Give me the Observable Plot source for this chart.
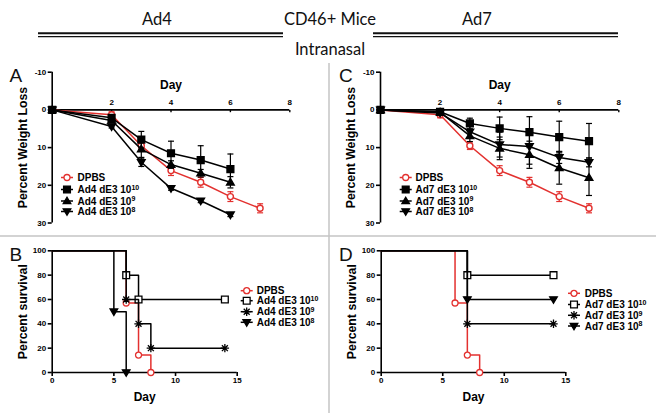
<!DOCTYPE html>
<html><head><meta charset="utf-8">
<script src="https://cdn.jsdelivr.net/npm/d3@7"></script>
<script src="https://cdn.jsdelivr.net/npm/@observablehq/plot@0.6"></script>
<style>
body{margin:0;background:#fff;}
#wrap{position:relative;width:656px;height:413px;overflow:hidden;background:#fff;}
.panel{position:absolute;}
.panel svg{display:block;max-width:none;}
#overlay{position:absolute;left:0;top:0;pointer-events:none;}
</style></head><body><div id="wrap"></div>
<script>
// ---------- data ----------
const weightDays = [0, 2, 3, 4, 5, 6, 7];
const weightTicks = [-10, 0, 10, 20, 30];
const dayTicks = [2, 4, 6, 8];
const dpbsWeight    = [0, 1.3, 9.5, 16.1, 19.2, 23.0, 26.1];
const dpbsWeightErr = [0, 0.8, 1.0, 1.3, 1.3, 1.3, 1.2];
const ad4e10Weight = [0, 2.1, 7.9, 11.5, 13.3, 15.7];
const ad4e10Err    = [0, 0.4, 2.2, 3.2, 3.8, 4.0];
const ad4e9Weight  = [0, 2.8, 10.4, 14.5, 16.8, 19.2];
const ad4e9Err     = [0, 0.4, 2.2, 1.0, 1.0, 1.5];
const ad4e8Weight  = [0, 4.4, 13.9, 20.8, 24.1, 27.8];
const ad4e8Err     = [0, 0.4, 1.1, 0.5, 0.5, 0.5];
const ad7e10Weight = [0, 0.5, 3.6, 4.9, 5.9, 7.2, 8.3];
const ad7e10Err    = [0, 0.3, 1.4, 3.0, 4.1, 4.2, 4.7];
const ad7e9Weight  = [0, 0.6, 6.9, 10.2, 11.9, 15.4, 18.0];
const ad7e9Err     = [0, 0.3, 1.5, 3.0, 3.6, 4.3, 4.7];
const ad7e8Weight  = [0, 0.8, 5.8, 9.2, 9.7, 12.6, 13.9];
const ad7e8Err     = [0, 0.3, 1.5, 3.3, 4.7, 1.6, 1.2];

const survTicksX = [0, 5, 10, 15];
const survTicksY = [0, 20, 40, 60, 80, 100];
const kmDpbsDay = [0, 6, 7, 8],      kmDpbsPct = [100, 57.1, 14.3, 0];
const kmAd4e10Day = [0, 6, 7, 14],   kmAd4e10Pct = [100, 80, 60, 60];
const kmAd4e9Day = [0, 6, 7, 8, 14], kmAd4e9Pct = [100, 60, 40, 20, 20];
const kmAd4e8Day = [0, 5, 6],        kmAd4e8Pct = [100, 50, 0];
const kmAd7e10Day = [0, 7, 14],      kmAd7e10Pct = [100, 80, 80];
const kmAd7e9Day = [0, 7, 14],       kmAd7e9Pct = [100, 40, 40];
const kmAd7e8Day = [0, 7, 14],       kmAd7e8Pct = [100, 60, 60];

const legendA = ["DPBS", "Ad4 dE3 10|10", "Ad4 dE3 10|9", "Ad4 dE3 10|8"];
const legendC = ["DPBS", "Ad7 dE3 10|10", "Ad7 dE3 10|9", "Ad7 dE3 10|8"];

// ---------- styling ----------
const RED = "#e3312f";
const FONT = "'Liberation Sans', Arial, Helvetica, sans-serif";
const sz = r => r * r * Math.PI;
const R = s => Math.sqrt(s / Math.PI);
const capSym = {draw(c, s) { const r = R(s); c.moveTo(-r, 0); c.lineTo(r, 0); }};
const vtickSym = {draw(c, s) { const r = R(s); c.moveTo(0, 0); c.lineTo(0, r); }};
const squareSym = {draw(c, s) { const r = R(s); c.moveTo(-r, -r); c.lineTo(r, -r); c.lineTo(r, r); c.lineTo(-r, r); c.closePath(); }};
const triUp = {draw(c, s) { const r = R(s); c.moveTo(-r, r * 0.7); c.lineTo(r, r * 0.7); c.lineTo(0, -r * 1.0); c.closePath(); }};
const triDown = {draw(c, s) { const r = R(s); c.moveTo(-r, -r * 0.7); c.lineTo(r, -r * 0.7); c.lineTo(0, r * 1.0); c.closePath(); }};
const circleSym = {draw(c, s) { const r = R(s); c.moveTo(r, 0); c.arc(0, 0, r, 0, 2 * Math.PI); }};
const asteriskSym = {draw(c, s) { const r = R(s); const d = r * 0.7071;
  c.moveTo(-r, 0); c.lineTo(r, 0); c.moveTo(0, -r); c.lineTo(0, r);
  c.moveTo(-d, -d); c.lineTo(d, d); c.moveTo(-d, d); c.lineTo(d, -d); }};

const weightStyles = [
  {sym: circleSym, r: 3, fill: "white", stroke: RED, color: RED},
  {sym: squareSym, r: 3.4, fill: "black", stroke: "black", color: "black"},
  {sym: triUp, r: 3.8, fill: "black", stroke: "black", color: "black"},
  {sym: triDown, r: 3.8, fill: "black", stroke: "black", color: "black"}
];
const survStyles = [
  {sym: circleSym, r: 3, fill: "white", stroke: RED, color: RED},
  {sym: squareSym, r: 3.4, fill: "white", stroke: "black", color: "black"},
  {sym: asteriskSym, r: 4.2, fill: "none", stroke: "black", color: "black"},
  {sym: triDown, r: 3.8, fill: "black", stroke: "black", color: "black"}
];

function weightSeries(vals, errs) {
  return vals.map((v, i) => ({day: weightDays[i], v, e: errs[i]}));
}
function kmSeries(days, pcts) {
  return days.map((d, i) => ({day: d, pct: pcts[i]}));
}

const plotStyle = {fontFamily: FONT, fontWeight: "bold", fontSize: "8px", color: "black", background: "transparent", overflow: "visible"};

const wrap = document.getElementById("wrap");
function place(svg, left, top) {
  const d = document.createElement("div");
  d.className = "panel"; d.style.left = left + "px"; d.style.top = top + "px";
  d.appendChild(svg); wrap.appendChild(d);
}

function symPath(sym, r) { const p = d3.path(); sym.draw(p, sz(r)); return p.toString(); }

function addLegend(svg, labels, styles, mx, tx, rows) {
  const g = d3.select(svg).append("g").attr("text-anchor", "start");
  labels.forEach((lab, i) => {
    const st = styles[i], y = rows[i];
    g.append("line").attr("x1", mx - 6).attr("x2", mx + 6).attr("y1", y).attr("y2", y)
      .attr("stroke", st.color).attr("stroke-width", 1.5);
    g.append("path").attr("d", symPath(st.sym, st.r)).attr("transform", `translate(${mx},${y})`)
      .attr("fill", st.fill).attr("stroke", st.stroke).attr("stroke-width", 1.3);
    const [main, sup] = lab.split("|");
    const t = g.append("text").attr("x", tx).attr("y", y).attr("dy", "0.36em").attr("text-anchor", "start")
      .attr("font-family", FONT).attr("font-weight", "bold").attr("font-size", 10).attr("fill", "black").text(main);
    if (sup) t.append("tspan").attr("dy", "-0.45em").attr("font-size", 7).text(sup);
  });
}

function weightPlot(series, ml, mr) {
  const marks = [
    Plot.ruleX([0], {strokeWidth: 1.6}),
    Plot.axisY({ticks: weightTicks, tickSize: 4, tickPadding: 2, tickFormat: d => String(d), label: null, strokeWidth: 1.6}),
    Plot.ruleY([0], {strokeWidth: 1.6}),
    Plot.dot(dayTicks, {x: d => d, y: d => 0, symbol: vtickSym, r: 2.3, stroke: "black", strokeWidth: 1.4, fill: "none"}),
    Plot.text(dayTicks, {x: d => d, y: d => 0, dy: -7, text: d => String(d)}),
    Plot.text(["Day"], {frameAnchor: "top", lineAnchor: "middle", dy: 12.5, fontSize: 12}),
    Plot.text(["Percent Weight Loss"], {frameAnchor: "left", textAnchor: "middle", lineAnchor: "middle", rotate: -90, dx: -29.5, fontSize: 12.3})
  ];
  series.forEach((data, i) => {
    const st = weightStyles[i];
    marks.push(
      Plot.ruleX(data.filter(d => d.e > 0), {x: "day", y1: d => d.v - d.e, y2: d => d.v + d.e, stroke: st.color, strokeWidth: 1.2}),
      Plot.dot(data.filter(d => d.e > 0), {x: "day", y: d => d.v - d.e, symbol: capSym, r: 3, stroke: st.color, fill: "none", strokeWidth: 1.2}),
      Plot.dot(data.filter(d => d.e > 0), {x: "day", y: d => d.v + d.e, symbol: capSym, r: 3, stroke: st.color, fill: "none", strokeWidth: 1.2}),
      Plot.line(data, {x: "day", y: "v", stroke: st.color, strokeWidth: 1.5}),
      Plot.dot(data, {x: "day", y: "v", symbol: st.sym, r: st.r, fill: st.fill, stroke: st.stroke, strokeWidth: 1.4})
    );
  });
  return Plot.plot({
    width: 328, height: 176, marginLeft: ml, marginRight: mr, marginTop: 11.7, marginBottom: 13.5,
    x: {domain: [0, 8], axis: null}, y: {domain: [-10, 30], reverse: true},
    style: plotStyle, marks
  });
}

function survPlot(series, ml, mr) {
  const marks = [
    Plot.ruleX([0], {strokeWidth: 1.6}),
    Plot.ruleY([0], {strokeWidth: 1.6}),
    Plot.axisY({ticks: survTicksY, tickSize: 4, tickPadding: 2, tickFormat: d => String(d), label: null, strokeWidth: 1.6}),
    Plot.axisX({ticks: survTicksX, tickSize: 4, tickPadding: 1, tickFormat: d => String(d), label: null, strokeWidth: 1.6}),
    Plot.text(["Day"], {frameAnchor: "bottom", lineAnchor: "middle", dy: 24.5, fontSize: 12}),
    Plot.text(["Percent survival"], {frameAnchor: "left", textAnchor: "middle", lineAnchor: "middle", rotate: -90, dx: -29.5, fontSize: 12.3})
  ];
  series.forEach((data, i) => {
    const st = survStyles[i];
    marks.push(
      Plot.line(data, {x: "day", y: "pct", curve: "step-after", stroke: st.color, strokeWidth: 1.5}),
      Plot.dot(data.slice(1), {x: "day", y: "pct", symbol: st.sym, r: st.r, fill: st.fill, stroke: st.stroke, strokeWidth: 1.3})
    );
  });
  return Plot.plot({
    width: 328, height: 177, marginLeft: ml, marginRight: mr, marginTop: 14.3, marginBottom: 41,
    x: {domain: [0, 15]}, y: {domain: [0, 100]},
    style: plotStyle, marks
  });
}

// Panel A
const pA = weightPlot([
  weightSeries(dpbsWeight, dpbsWeightErr), weightSeries(ad4e10Weight, ad4e10Err),
  weightSeries(ad4e9Weight, ad4e9Err), weightSeries(ad4e8Weight, ad4e8Err)], 51.7, 38.7);
addLegend(pA, legendA, weightStyles, 67, 77.5, [117.5, 129.5, 141, 151.5]);
place(pA, 0, 60);

// Panel C
const pC = weightPlot([
  weightSeries(dpbsWeight, dpbsWeightErr), weightSeries(ad7e10Weight, ad7e10Err),
  weightSeries(ad7e9Weight, ad7e9Err), weightSeries(ad7e8Weight, ad7e8Err)], 52, 37.7);
addLegend(pC, legendC, weightStyles, 77.7, 87.5, [117.5, 129.5, 141, 151.5]);
place(pC, 328, 60);

// Panel B
const pB = survPlot([
  kmSeries(kmDpbsDay, kmDpbsPct), kmSeries(kmAd4e10Day, kmAd4e10Pct),
  kmSeries(kmAd4e9Day, kmAd4e9Pct), kmSeries(kmAd4e8Day, kmAd4e8Pct)], 51.7, 91.3);
addLegend(pB, legendA, survStyles, 246.7, 256.7, [54.7, 64.7, 75.7, 86.3]);
place(pB, 0, 236);

// Panel D
const pD = survPlot([
  kmSeries(kmDpbsDay, kmDpbsPct), kmSeries(kmAd7e10Day, kmAd7e10Pct),
  kmSeries(kmAd7e9Day, kmAd7e9Pct), kmSeries(kmAd7e8Day, kmAd7e8Pct)], 52.7, 90.7);
addLegend(pD, legendC, survStyles, 246, 256.7, [57.3, 68.5, 79.3, 90]);
place(pD, 328, 236);

// ---------- overlay: titles, dividers, panel letters ----------
const ov = d3.select(wrap).append("svg").attr("id", "overlay").attr("width", 656).attr("height", 413);
ov.append("line").attr("x1", 0).attr("x2", 656).attr("y1", 236).attr("y2", 236).attr("stroke", "#c4c4c4").attr("stroke-width", 1.5);
ov.append("line").attr("x1", 329).attr("x2", 329).attr("y1", 63).attr("y2", 413).attr("stroke", "#c4c4c4").attr("stroke-width", 1.5);
const TF = "Lato, 'Open Sans', sans-serif";
[["Ad4", 157, 25], ["CD46+ Mice", 330, 25], ["Ad7", 477, 25], ["Intranasal", 330, 55]].forEach(([t, x, y]) => {
  ov.append("text").attr("x", x).attr("y", y).attr("text-anchor", "middle").attr("font-family", TF)
    .attr("font-size", 16.5).attr("fill", "#111").text(t);
});
[[38, 283], [373, 618]].forEach(([a, b]) => {
  ov.append("line").attr("x1", a).attr("x2", b).attr("y1", 33.2).attr("y2", 33.2).attr("stroke", "#111").attr("stroke-width", 2);
  ov.append("line").attr("x1", a).attr("x2", b).attr("y1", 36.6).attr("y2", 36.6).attr("stroke", "#111").attr("stroke-width", 1.4);
});
[["A", 9.5, 82], ["C", 339, 82], ["B", 9.5, 261], ["D", 339, 261]].forEach(([t, x, y]) => {
  ov.append("text").attr("x", x).attr("y", y).attr("font-family", FONT).attr("font-size", 19).attr("fill", "#111").text(t);
});
</script></body></html>
